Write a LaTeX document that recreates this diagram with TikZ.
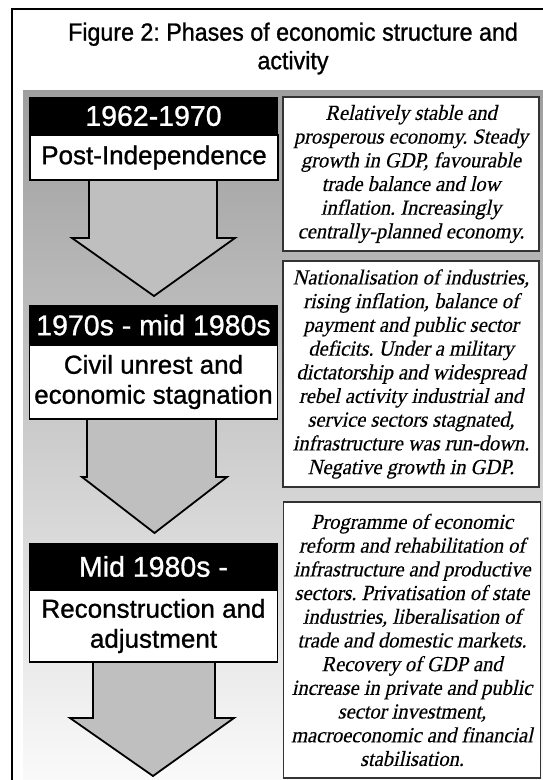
\documentclass[tikz,border=0pt]{standalone}
\usepackage{fontspec}
\setmainfont{Liberation Serif}
\newfontfamily\titlefont[FakeStretch=0.93,FakeBold=1]{Liberation Sans}
\newfontfamily\sansf[FakeBold=1]{Liberation Sans}
\newfontfamily\descfont[FakeSlant=0.22,FakeStretch=0.95,FakeBold=0.3]{Liberation Serif}
\frenchspacing
\begin{document}
\begin{tikzpicture}[x=1pt,y=-1pt,
  phasebar/.style={fill=black,text=white,inner sep=0pt,minimum width=249pt,font=\sansf\fontsize{28.5}{32}\selectfont},
  phasebox/.style={draw=black,line width=1.4pt,fill=white,inner sep=0pt,minimum width=248pt,align=center,font=\sansf\fontsize{26}{30}\selectfont},
  descbox/.style={draw=black!80,line width=1.2pt,fill=white,inner sep=0pt,align=center,font=\descfont\frenchspacing\fontsize{21.5}{23.7}\selectfont},
  blockarrow/.style={draw=black,line width=1.8pt,fill=black!25,line join=miter}]
\useasboundingbox (0,0) rectangle (543,780);
\fill[white] (0,0) rectangle (543,780);
\shade[top color=black!38,bottom color=black!2] (23,90) rectangle (543,780);
\draw[line width=2pt] (12,780) -- (12,9) -- (543,9);

\node[font=\titlefont\fontsize{25}{28.5}\selectfont,align=center,inner sep=0pt] (title) at (293,48.5) {Figure 2: Phases of economic structure and\\activity};

% block arrows
\draw[blockarrow] (89,175) -- (89,238) -- (72,238) -- (154,296) -- (235,238) -- (217,238) -- (217,175) -- cycle;
\draw[blockarrow] (87,415) -- (87,477) -- (82,477) -- (154.5,533) -- (227,477) -- (216,477) -- (216,415) -- cycle;
\draw[blockarrow] (93,658) -- (93,718) -- (70,718) -- (153,776) -- (234,718) -- (215,718) -- (215,658) -- cycle;

% left column
\node[phasebar,minimum height=38pt] (bar1) at (153.5,116) {1962-1970};
\node[phasebox,minimum height=45pt] (box1) at (154,157.5) {Post-Independence};
\node[phasebar,minimum height=40pt] (bar2) at (153.5,325) {1970s - mid 1980s};
\node[phasebox,minimum height=74pt] (box2) at (153.5,382) {Civil unrest and\\economic stagnation};
\node[phasebar,minimum height=47pt] (bar3) at (153.5,566.5) {Mid 1980s -};
\node[phasebox,minimum height=72pt] (box3) at (153.5,626) {Reconstruction and\\adjustment};

% right column
\node[descbox,minimum width=256pt,minimum height=154pt] (desc1) at (411,174) {Relatively stable and\\prosperous economy. Steady\\growth in GDP, favourable\\trade balance and low\\inflation. Increasingly\\centrally-planned economy.};
\node[descbox,minimum width=256pt,minimum height=226pt] (desc2) at (411,374) {Nationalisation of industries,\\rising inflation, balance of\\payment and public sector\\deficits. Under a military\\dictatorship and widespread\\rebel activity industrial and\\service sectors stagnated,\\infrastructure was run-down.\\Negative growth in GDP.};
\node[descbox,minimum width=257pt,minimum height=276pt] (desc3) at (412,640) {Programme of economic\\reform and rehabilitation of\\infrastructure and productive\\sectors. Privatisation of state\\industries, liberalisation of\\trade and domestic markets.\\Recovery of GDP and\\increase in private and public\\sector investment,\\macroeconomic and financial\\stabilisation.};
\end{tikzpicture}
\end{document}
